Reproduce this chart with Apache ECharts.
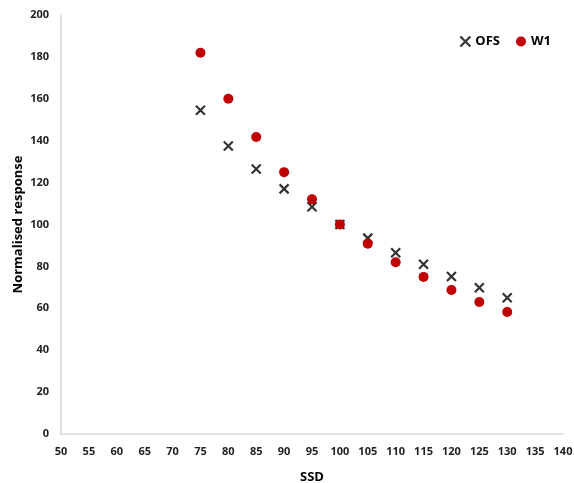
<!DOCTYPE html>
<html>
<head>
<meta charset="utf-8">
<script src="https://cdn.jsdelivr.net/npm/echarts@6/dist/echarts.min.js"></script>
<style>
  html, body { margin: 0; padding: 0; background: #fff; }
  #chart { width: 574px; height: 483px; }
</style>
</head>
<body>
<div id="chart"></div>
<script>
// SSD values and normalised response for each detector
const ssd = [75, 80, 85, 90, 95, 100, 105, 110, 115, 120, 125, 130];
const ofs = [154.5, 137.5, 126.5, 117, 108.5, 100, 93.5, 86.5, 81, 75.2, 69.8, 65];
const w1 = [182, 160, 141.8, 125, 112, 100, 90.8, 82, 75, 68.7, 63, 58.2];

const crossPath = 'path://M0,0 L10,10 M10,0 L0,10';
const font = 'Open Sans, DejaVu Sans, sans-serif';

const chart = echarts.init(document.getElementById('chart'));

const option = {
    animation: false,
    backgroundColor: '#fff',
    grid: { left: 61, right: 11, top: 15, bottom: 49, outerBoundsMode: 'none', containLabel: false },
    legend: {
        top: 29,
        right: 18,
        itemGap: 16,
        itemWidth: 10,
        itemHeight: 10,
        textStyle: { color: '#000', fontWeight: 'bold', fontSize: 13, fontFamily: font },
        data: [
            { name: 'OFS', icon: crossPath, itemStyle: { color: 'none', borderColor: '#000', borderWidth: 2.2 } },
            { name: 'W1', icon: 'circle' }
        ]
    },
    xAxis: {
        type: 'value',
        min: 50,
        max: 140,
        interval: 5,
        name: 'SSD',
        nameLocation: 'middle',
        nameGap: 37,
        nameMoveOverlap: false,
        nameTextStyle: { color: '#000', fontWeight: 'bold', fontSize: 13, fontFamily: font },
        axisLine: { show: true, lineStyle: { color: '#d9d9d9', width: 1.5 } },
        axisTick: { show: false },
        splitLine: { show: false },
        axisLabel: { color: '#222', fontWeight: 'bold', fontSize: 11, fontFamily: font, margin: 12 }
    },
    yAxis: {
        type: 'value',
        min: 0,
        max: 200,
        interval: 20,
        name: 'Normalised response',
        nameLocation: 'middle',
        nameGap: 36,
        nameMoveOverlap: false,
        nameTextStyle: { color: '#000', fontWeight: 'bold', fontSize: 13, fontFamily: font },
        axisLine: { show: true, lineStyle: { color: '#d9d9d9', width: 1.5 } },
        axisTick: { show: false },
        splitLine: { show: false },
        axisLabel: { color: '#222', fontWeight: 'bold', fontSize: 11, fontFamily: font, margin: 12 }
    },
    series: [
        {
            name: 'OFS',
            type: 'scatter',
            symbol: crossPath,
            symbolSize: 9,
            itemStyle: { color: 'none', borderColor: '#000', borderWidth: 2.2 },
            data: ssd.map((x, i) => [x, ofs[i]])
        },
        {
            name: 'W1',
            type: 'scatter',
            symbol: 'circle',
            symbolSize: 10,
            itemStyle: { color: '#c00000', opacity: 1 },
            data: ssd.map((x, i) => [x, w1[i]])
        }
    ]
};

chart.setOption(option);
</script>
</body>
</html>
